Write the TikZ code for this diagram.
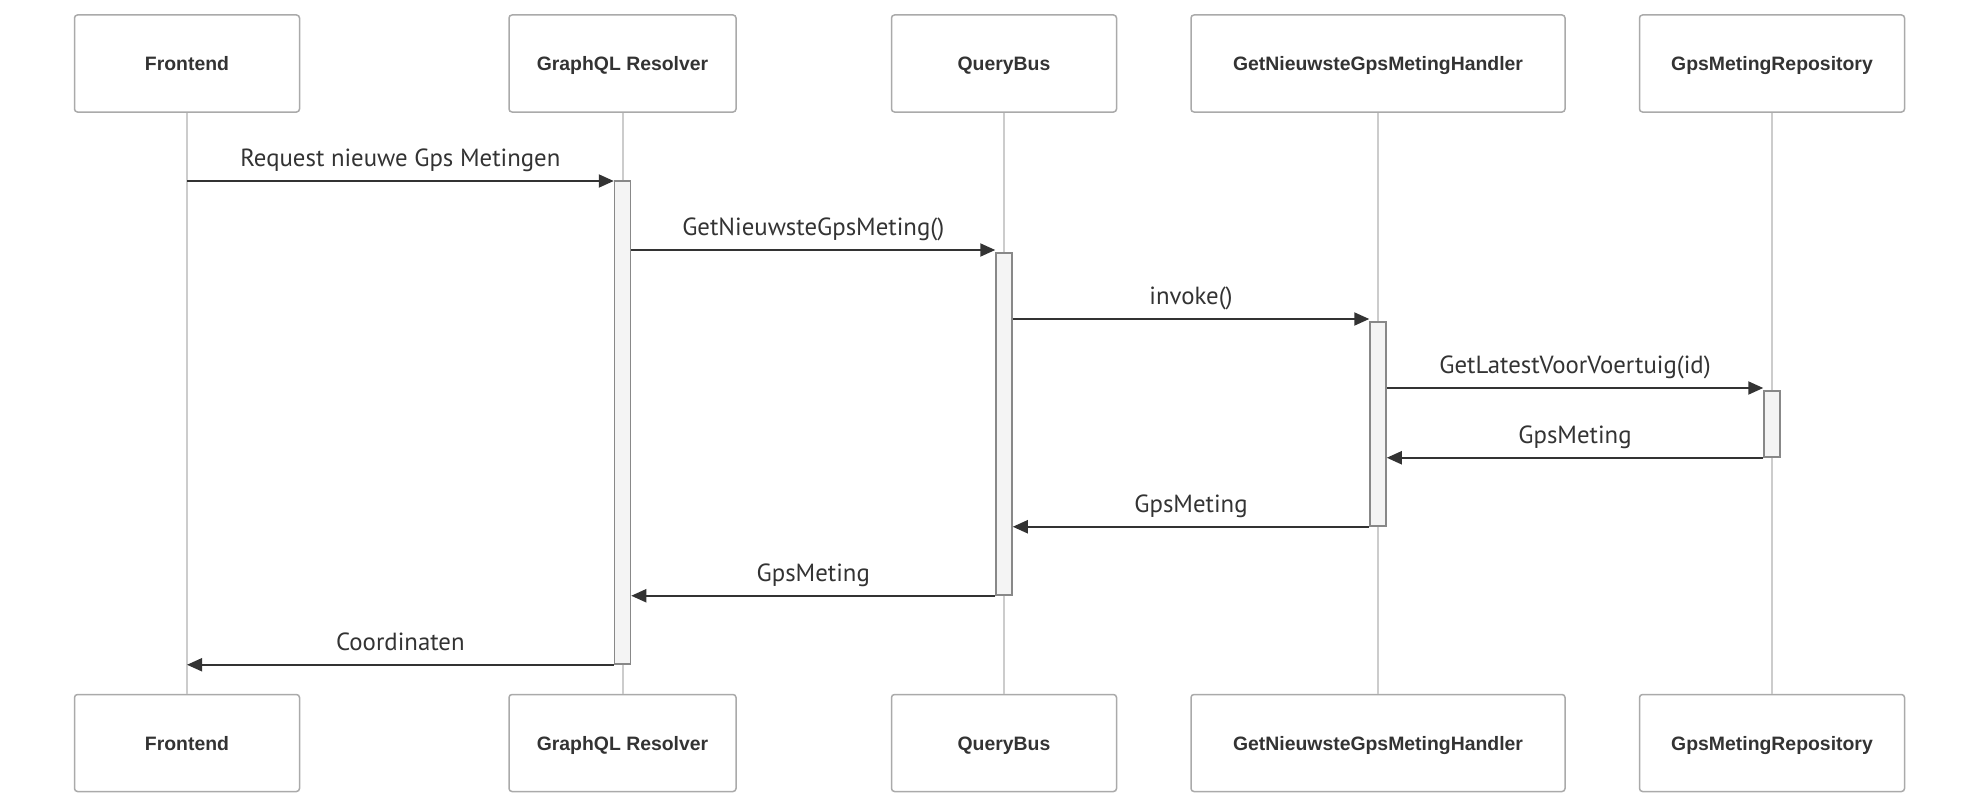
\documentclass[tikz,border=0pt]{standalone}
\usepackage{fontspec}
\setmainfont{PT Sans}
\newfontfamily\actorfont{Liberation Sans}
\usetikzlibrary{arrows.meta}

\definecolor{boxline}{HTML}{AAAAAA}
\definecolor{lifeline}{HTML}{CCCCCC}
\definecolor{actline}{HTML}{888888}
\definecolor{actfill}{HTML}{F4F4F4}
\definecolor{ink}{HTML}{333333}

\begin{document}
\begin{tikzpicture}
[
    x = 1pt, y = -1pt,
    actor/.style = {draw = boxline, line width = 1.5pt, fill = white, rounded corners = 3pt,
                    minimum height = 97pt, text = ink, text height = 14pt, text depth = 0pt,
                    font = \actorfont\bfseries\fontsize{19.4}{23}\selectfont},
    act/.style = {draw = actline, line width = 1.5pt, fill = actfill, minimum width = 16pt, inner sep = 0pt},
    life/.style = {draw = lifeline, line width = 2pt},
    msg/.style = {draw = ink, line width = 2pt, -{Triangle[length = 15pt, width = 13pt]}},
    lbl/.style = {midway, anchor = base, yshift = 14.5pt, text = ink, font = \fontsize{24.8}{29}\selectfont}
]
\useasboundingbox (0,0) rectangle (1980,808);

% actors, top and bottom
\foreach \name/\x/\w/\txt in {f/187/225/Frontend, g/622.5/227/GraphQL Resolver, q/1004/225/QueryBus,
                              h/1378/374/GetNieuwsteGpsMetingHandler, r/1772/265/GpsMetingRepository}
{
    \node[actor, minimum width = \w pt] (\name-top) at (\x, 63.5) {\txt};
    \node[actor, minimum width = \w pt] (\name-bot) at (\x, 743) {\txt};
    \draw[life] (\name-top.south) -- (\name-bot.north);
}

% activations
\node[act, minimum height = 483pt] (ga) at (622.5, 422.5) {};
\node[act, minimum height = 342pt] (qa) at (1004, 424) {};
\node[act, minimum height = 204pt] (ha) at (1378, 424) {};
\node[act, minimum height = 66pt]  (ra) at (1772, 424) {};

% messages
\draw[msg] (f-top.south |- 0,181) -- (ga.west |- 0,181) node[lbl] {Request nieuwe Gps Metingen};
\draw[msg] (ga.east |- 0,250) -- (qa.west |- 0,250) node[lbl] {GetNieuwsteGpsMeting()};
\draw[msg] (qa.east |- 0,319) -- (ha.west |- 0,319) node[lbl] {invoke()};
\draw[msg] (ha.east |- 0,388) -- (ra.west |- 0,388) node[lbl] {GetLatestVoorVoertuig(id)};
\draw[msg] (ra.south west) -- (ha.east |- ra.south) node[lbl] {GpsMeting};
\draw[msg] (ha.south west) -- (qa.east |- ha.south) node[lbl] {GpsMeting};
\draw[msg] (qa.south west) -- (ga.east |- qa.south) node[lbl] {GpsMeting};
\draw[msg] (ga.south west) -- (f-top.south |- ga.south) node[lbl] {Coordinaten};
\end{tikzpicture}
\end{document}
